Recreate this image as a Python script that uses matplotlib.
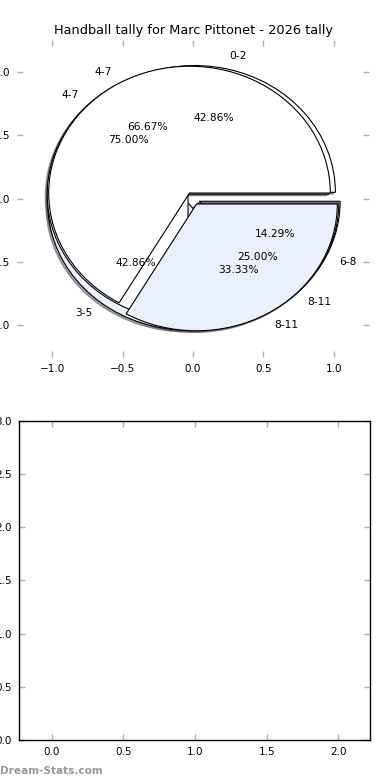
import matplotlib
matplotlib.use('Agg')
from matplotlib import pyplot as plt

TITLE = 'Handball tally for Marc Pittonet - 2026 tally'

# three tallies drawn over each other, like the original
goals_labels = ['0-2', '3-5', '6-8']
goals_values = [3, 3, 1]

shots_labels = ['4-7', '8-11']
shots_values = [3, 1]

saves_labels = ['4-7', '8-11']
saves_values = [2, 1]

colors = ['white', '#eaf0fc', '#eaf0fc']
pie_ticks = [-1.0, -0.5, 0.0, 0.5, 1.0]
empty_xticks = [0.0, 0.5, 1.0, 1.5, 2.0]
empty_yticks = [0.0, 0.5, 1.0, 1.5, 2.0, 2.5, 3.0]

plt.rcParams['font.family'] = ['DejaVu Sans']
plt.rcParams['font.size'] = 7.7

fig = plt.figure(figsize=(3.9, 7.8), dpi=100)

ax1 = fig.add_axes([0.0436, 0.5423, 0.9026, 0.4064])
for vals, labs in [(goals_values, goals_labels),
                   (shots_values, shots_labels),
                   (saves_values, saves_labels)]:
    ax1.pie(vals, labels=labs, explode=[0.05] * len(vals),
            colors=colors[:len(vals)],
            autopct='%1.2f%%', shadow={'ox': -0.01, 'oy': -0.01},
            frame=True,
            wedgeprops={'edgecolor': 'black', 'linewidth': 0.8},
            textprops={'fontsize': 7.7})
ax1.set_aspect('auto')
ax1.set_xlim(-1.25, 1.25)
ax1.set_ylim(-1.25, 1.25)
ax1.set_xticks(pie_ticks)
ax1.set_yticks(pie_ticks)
ax1.set_frame_on(False)
ax1.set_title(TITLE, fontsize=9.3, pad=4)

ax2 = fig.add_axes([0.0487, 0.0513, 0.9, 0.409])
ax2.set_xlim(-0.228, 2.22)
ax2.set_ylim(0, 3)
ax2.set_xticks(empty_xticks)
ax2.set_yticks(empty_yticks)
for sp in ax2.spines.values():
    sp.set_linewidth(1.0)

for ax in (ax1, ax2):
    ax.tick_params(direction='in', top=True, right=True, length=4, width=1,
                   color='#b0b0b0', labelsize=7.5, pad=5)

fig.text(0.0, 0.005, 'Dream-Stats.com', color='#999999', fontsize=7.6,
         fontweight='bold', ha='left', va='bottom')

fig.savefig('out.png', dpi=100)
